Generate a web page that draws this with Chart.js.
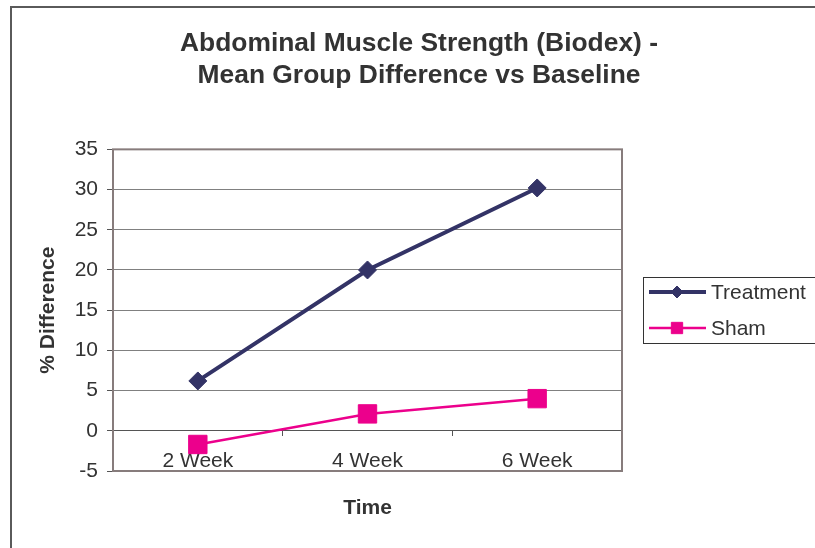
<!DOCTYPE html>
<html>
<head>
<meta charset="utf-8">
<script src="https://cdn.jsdelivr.net/npm/chart.js@4.4.1/dist/chart.umd.min.js"></script>
<style>
  html, body { margin: 0; padding: 0; background: #fff; }
  #wrap { position: relative; width: 815px; height: 548px; overflow: hidden; }
  #wrap canvas { position: absolute; left: 0; top: 0; }
  #frame { position: absolute; left: 10px; top: 6px; right: -10px; bottom: -10px;
           border-left: 2px solid #5a5a5a; border-top: 2px solid #5a5a5a; pointer-events: none; }
</style>
</head>
<body>
<div id="wrap">
  <canvas id="chart" width="815" height="548"></canvas>
  <div id="frame"></div>
</div>
<script>
// Categories and series values
const categories = ['2 Week', '4 Week', '6 Week'];
const treatment = [6.2, 20.0, 30.2];
const sham = [-1.7, 2.1, 4.0];
const seriesNames = ['Treatment', 'Sham'];

// Value axis range
const yMin = -5;
const yMax = 35;
const yStep = 5;

// Texts
const titleLines = ['Abdominal Muscle Strength (Biodex) -', 'Mean Group Difference vs Baseline'];
const xTitle = 'Time';
const yTitle = '% Difference';

const FONT = '"Liberation Sans", Arial, Helvetica, sans-serif';
const TEXT = '#333333';

// Frame around the plot area, drawn after the grid and before the lines
const plotFrame = {
  id: 'plotFrame',
  beforeDatasetsDraw(chart) {
    const { ctx, chartArea: a } = chart;
    ctx.save();
    ctx.strokeStyle = '#877c7c';
    ctx.lineWidth = 2;
    ctx.strokeRect(a.left, a.top, a.right - a.left, a.bottom - a.top);
    ctx.restore();
  }
};

// Boxed legend with a line-and-marker sample for each series
const boxLegend = {
  id: 'boxLegend',
  afterDraw(chart) {
    const ctx = chart.ctx;
    ctx.save();
    ctx.strokeStyle = '#333';
    ctx.lineWidth = 1;
    ctx.strokeRect(643.5, 277.5, 200, 66);
    chart.data.datasets.forEach((ds, i) => {
      const y = 292 + i * 36;
      ctx.strokeStyle = ds.borderColor;
      ctx.lineWidth = ds.borderWidth;
      ctx.beginPath();
      ctx.moveTo(649, y);
      ctx.lineTo(706, y);
      ctx.stroke();
      ctx.fillStyle = ds.pointBackgroundColor;
      ctx.strokeStyle = ds.pointBorderColor;
      ctx.lineWidth = 1;
      Chart.helpers.drawPoint(ctx, {
        pointStyle: ds.pointStyle,
        radius: ds.legendRadius,
        borderWidth: 1,
        rotation: 0
      }, 677, y);
      ctx.fillStyle = TEXT;
      ctx.font = '21px ' + FONT;
      ctx.textBaseline = 'middle';
      ctx.textAlign = 'left';
      ctx.fillText(ds.label, 711, y + 1);
    });
    ctx.restore();
  }
};

new Chart(document.getElementById('chart'), {
  type: 'line',
  data: {
    labels: categories,
    datasets: [
      {
        label: seriesNames[0],
        data: treatment,
        borderColor: '#333366',
        borderWidth: 4,
        pointStyle: 'rectRot',
        pointRadius: 9,
        pointHoverRadius: 9,
        pointBorderWidth: 1,
        pointBackgroundColor: '#333366',
        pointBorderColor: '#333366',
        legendRadius: 6,
        tension: 0
      },
      {
        label: seriesNames[1],
        data: sham,
        borderColor: '#ec008c',
        borderWidth: 2.5,
        pointStyle: 'rect',
        pointRadius: 13,
        pointHoverRadius: 13,
        pointBorderWidth: 1,
        pointBackgroundColor: '#ec008c',
        pointBorderColor: '#ec008c',
        legendRadius: 8,
        tension: 0
      }
    ]
  },
  options: {
    responsive: false,
    animation: false,
    devicePixelRatio: 1,
    layout: { padding: { left: 23, right: 0, top: 0, bottom: 77 } },
    plugins: {
      legend: { display: false },
      tooltip: { enabled: false },
      title: {
        display: true,
        text: titleLines,
        color: TEXT,
        font: { family: FONT, size: 26.4, weight: 'bold', lineHeight: 1.2 },
        padding: { top: 28, bottom: 58 }
      }
    },
    scales: {
      x: {
        type: 'category',
        position: { y: 0 },
        offset: true,
        grid: {
          offset: true,
          drawOnChartArea: false,
          drawTicks: true,
          tickLength: 5,
          tickColor: '#555',
          tickWidth: 1
        },
        border: { display: true, color: '#555', width: 1 },
        ticks: {
          color: TEXT,
          font: { family: FONT, size: 21 },
          padding: 13,
          maxRotation: 0
        },
        title: {
          display: true,
          text: xTitle,
          color: TEXT,
          font: { family: FONT, size: 21, weight: 'bold', lineHeight: 1.2 },
          padding: { top: 0, bottom: -13 }
        },
        afterFit(scale) { scale.height = 77; }
      },
      y: {
        type: 'linear',
        position: 'left',
        min: yMin,
        max: yMax,
        grid: {
          color: '#808080',
          lineWidth: 1,
          tickLength: 6,
          tickColor: '#555'
        },
        border: { display: false },
        ticks: {
          stepSize: yStep,
          color: TEXT,
          font: { family: FONT, size: 21 },
          padding: 9
        },
        title: {
          display: true,
          text: yTitle,
          color: TEXT,
          font: { family: FONT, size: 21, weight: 'bold', lineHeight: 1.2 },
          padding: { top: 13, bottom: 0 }
        },
        afterFit(scale) { scale.width = 90; }
      },
      legendSpace: {
        type: 'linear',
        position: 'right',
        display: true,
        grid: { display: false },
        border: { display: false },
        ticks: { display: false },
        afterFit(scale) { scale.width = 193; }
      }
    }
  },
  plugins: [plotFrame, boxLegend]
});
</script>
</body>
</html>
